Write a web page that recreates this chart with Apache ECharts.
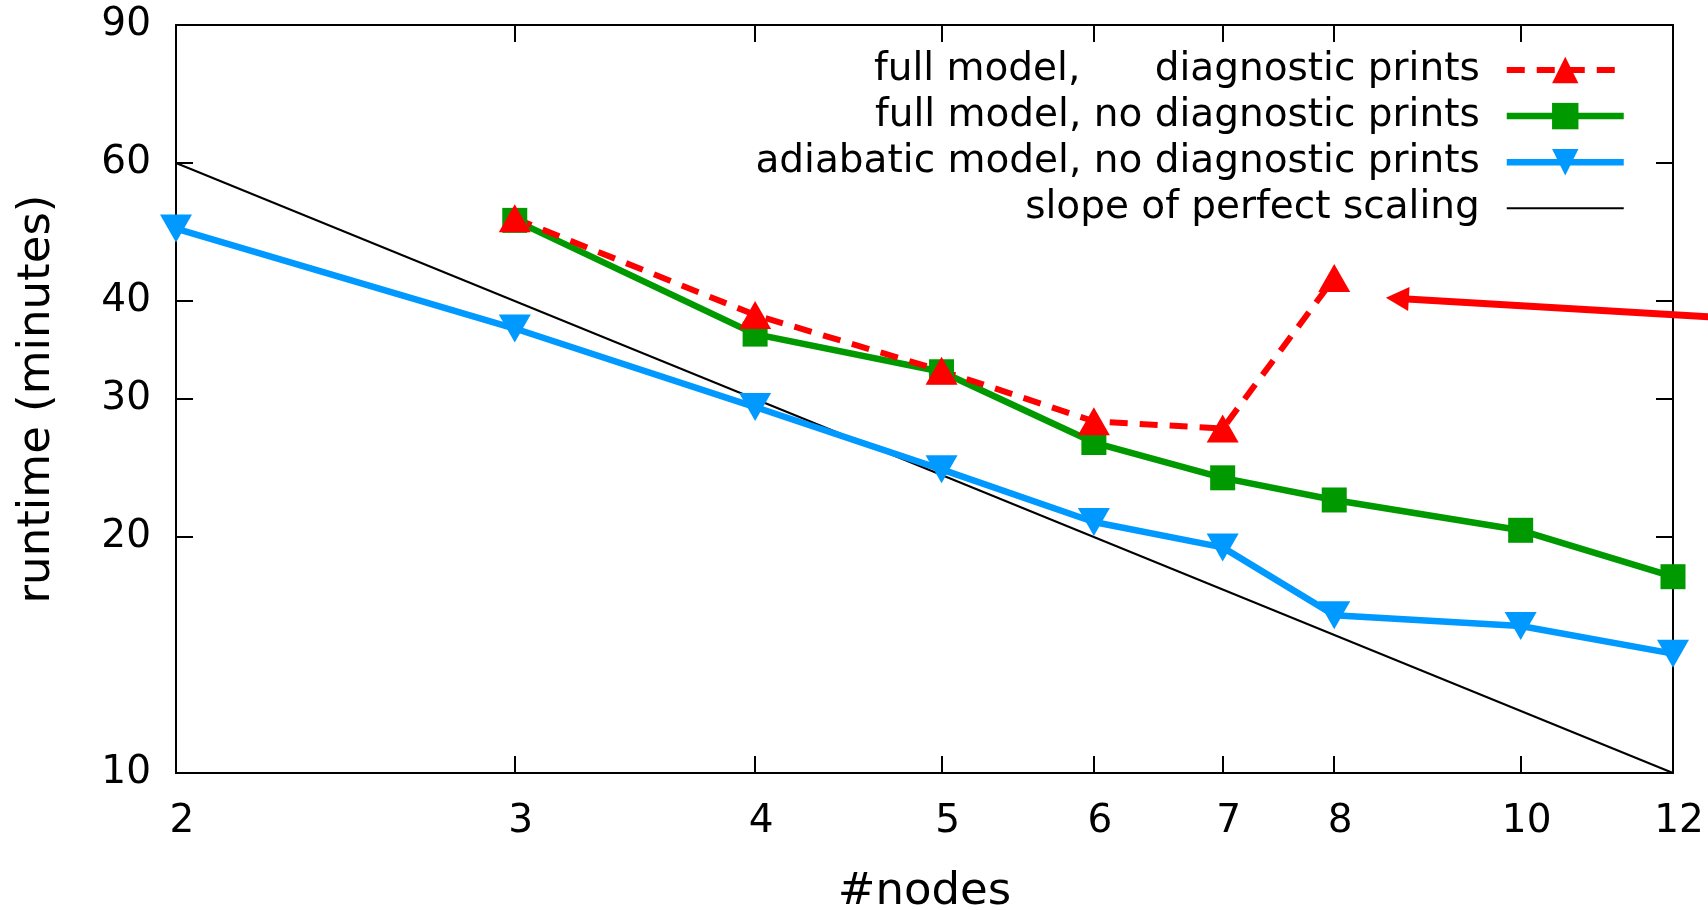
<!DOCTYPE html>
<html>
<head>
<meta charset="utf-8">
<script src="https://cdn.jsdelivr.net/npm/echarts@6/dist/echarts.min.js"></script>
<style>
  html, body { margin: 0; padding: 0; background: #fff; }
  #chart { width: 1708px; height: 910px; }
</style>
</head>
<body>
<div id="chart"></div>
<script>
// Runtime (minutes) against number of nodes, log-log scale
const nodes = [2, 3, 4, 5, 6, 7, 8, 10, 12];
const fullPrints = [null, 51.0, 38.4, 32.6, 28.1, 27.5, 42.8, null, null];
const fullNoPrints = [null, 50.7, 36.3, 32.5, 26.4, 23.8, 22.3, 20.4, 17.8];
const adiabaticNoPrints = [49.5, 36.9, 29.3, 24.4, 20.9, 19.4, 15.9, 15.4, 14.2];
const perfectScaling = [[2, 60], [12, 10]];
const xTicks = [2, 3, 4, 5, 6, 7, 8, 10, 12];
const yTicks = [10, 20, 30, 40, 60, 90];
const seriesNames = [
  'full model,      diagnostic prints',
  'full model, no diagnostic prints',
  'adiabatic model, no diagnostic prints',
  'slope of perfect scaling'
];
// annotation arrow pointing at the slow 8-node run (data coordinates)
const arrowTail = [13.3, 37.85];
const arrowTip = [8.51, 40.4];

const FONT = 'DejaVu Sans';
const RED = '#ff0000', GREEN = '#009900', BLUE = '#0099ff';

function pairs(xs, ys) {
  const out = [];
  xs.forEach((x, i) => { if (ys[i] != null) out.push([x, ys[i]]); });
  return out;
}

const frameLine = { show: true, lineStyle: { color: '#000', width: 2 } };

function xAxis(position, primary) {
  return {
    type: 'log', logBase: 10, min: 2, max: 12, position: position,
    name: primary ? '#nodes' : '', nameLocation: 'middle', nameGap: 97,
    nameTextStyle: { fontSize: 45, fontFamily: FONT, color: '#000' },
    axisLine: frameLine,
    axisTick: { show: true, inside: true, length: 17, customValues: xTicks,
                lineStyle: { color: '#000', width: 2 } },
    axisLabel: { show: primary, customValues: xTicks, fontSize: 39, fontFamily: FONT,
                 color: '#000', margin: 29, padding: [0, 0, 0, 12] },
    splitLine: { show: false }, minorTick: { show: false }
  };
}
function yAxis(position, primary) {
  return {
    type: 'log', logBase: 10, min: 10, max: 90, position: position,
    name: primary ? 'runtime (minutes)' : '', nameLocation: 'middle', nameGap: 116, nameRotate: 90,
    nameTextStyle: { fontSize: 45, fontFamily: FONT, color: '#000' },
    axisLine: frameLine,
    axisTick: { show: true, inside: true, length: 17, customValues: yTicks,
                lineStyle: { color: '#000', width: 2 } },
    axisLabel: { show: primary, customValues: yTicks, fontSize: 39, fontFamily: FONT,
                 color: '#000', margin: 25 },
    splitLine: { show: false }, minorTick: { show: false }
  };
}

const chart = echarts.init(document.getElementById('chart'), null, { renderer: 'canvas' });

const option = {
  animation: false,
  backgroundColor: '#fff',
  grid: { left: 176, right: 35, top: 25, bottom: 137, containLabel: false, outerBoundsMode: 'none' },
  xAxis: [xAxis('bottom', true), xAxis('top', false)],
  yAxis: [yAxis('left', true), yAxis('right', false)],
  legend: {
    orient: 'vertical', right: 76, top: 45.5, align: 'right',
    itemWidth: 117, itemHeight: 33, itemGap: 7.1, selectedMode: false,
    data: seriesNames,
    textStyle: { fontSize: 39, fontFamily: FONT, color: '#000', padding: [0, 22, 0, 0] },
    lineStyle: { width: 'inherit' }
  },
  series: [
    {
      name: seriesNames[3], type: 'line', data: perfectScaling,
      symbol: 'circle', showSymbol: false, clip: false,
      lineStyle: { color: '#000', width: 2 },
      itemStyle: { color: 'rgba(0,0,0,0)' },
      emphasis: { disabled: true }
    },
    {
      name: seriesNames[2], type: 'line', data: pairs(nodes, adiabaticNoPrints),
      symbol: 'triangle', symbolRotate: 180, symbolSize: [32, 28], clip: false,
      lineStyle: { color: BLUE, width: 6.5 }, itemStyle: { color: BLUE },
      emphasis: { disabled: true }
    },
    {
      name: seriesNames[1], type: 'line', data: pairs(nodes, fullNoPrints),
      symbol: 'rect', symbolSize: 25, clip: false,
      lineStyle: { color: GREEN, width: 6.5 }, itemStyle: { color: GREEN },
      emphasis: { disabled: true }
    },
    {
      name: seriesNames[0], type: 'line', data: pairs(nodes, fullPrints),
      symbol: 'triangle', symbolSize: [32, 28], clip: false,
      lineStyle: { color: RED, width: 6, type: [18, 12] }, itemStyle: { color: RED },
      emphasis: { disabled: true }
    }
  ]
};
chart.setOption(option);

// Red annotation arrow, placed through the axes
const p0 = chart.convertToPixel({ xAxisIndex: 0, yAxisIndex: 0 }, arrowTail);
const p1 = chart.convertToPixel({ xAxisIndex: 0, yAxisIndex: 0 }, arrowTip);
const dx = p1[0] - p0[0], dy = p1[1] - p0[1];
const len = Math.hypot(dx, dy);
const ux = dx / len, uy = dy / len;
const headLen = 23, headHalf = 12;
const bx = p1[0] - ux * headLen, by = p1[1] - uy * headLen;
chart.setOption({
  graphic: [
    {
      type: 'line', silent: true, z: 10,
      shape: { x1: p0[0], y1: p0[1], x2: bx + ux * 2, y2: by + uy * 2 },
      style: { stroke: RED, lineWidth: 7 }
    },
    {
      type: 'polygon', silent: true, z: 10,
      shape: { points: [[p1[0], p1[1]], [bx - uy * headHalf, by + ux * headHalf], [bx + uy * headHalf, by - ux * headHalf]] },
      style: { fill: RED }
    }
  ]
});
</script>
</body>
</html>
